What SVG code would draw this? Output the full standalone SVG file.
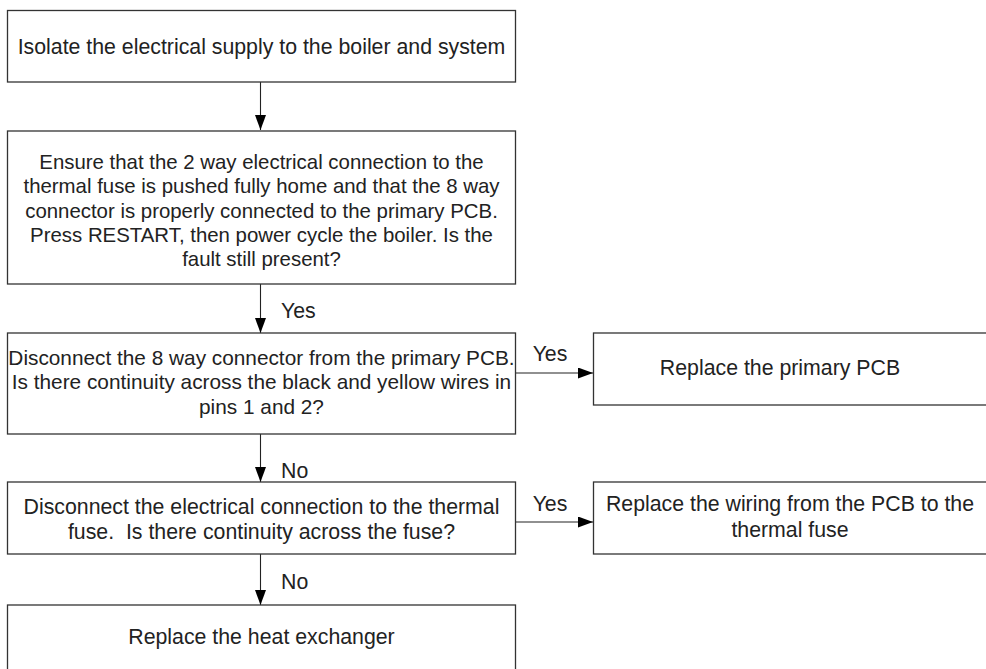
<svg xmlns="http://www.w3.org/2000/svg" width="986" height="669" viewBox="0 0 986 669">
<defs>
<style>
.box{fill:#fff;stroke:#333;stroke-width:1.3}
.t{font-family:"Liberation Sans",Arial,sans-serif;font-size:21.3px;fill:#222;text-anchor:middle}
.s2{font-size:20.4px}
.s3{font-size:20.8px}
.l{font-family:"Liberation Sans",Arial,sans-serif;font-size:21.3px;fill:#222}
.c{stroke:#222;stroke-width:1.1;fill:none;marker-end:url(#ah)}
</style>
<marker id="ah" markerWidth="15" markerHeight="11" refX="15" refY="5.5" orient="auto" markerUnits="userSpaceOnUse">
<path d="M0,0 L15,5.5 L0,11 Z" fill="#000"/>
</marker>
</defs>
<rect width="986" height="669" fill="#fff"/>
<g id="connectors">
<line class="c" x1="260.5" y1="82" x2="260.5" y2="130"/>
<line class="c" x1="260.5" y1="284" x2="260.5" y2="333"/>
<line class="c" x1="260.5" y1="434" x2="260.5" y2="482"/>
<line class="c" x1="260.5" y1="554" x2="260.5" y2="605"/>
<line class="c" x1="515.5" y1="373" x2="593" y2="373"/>
<line class="c" x1="515.5" y1="522" x2="593" y2="522"/>
<text class="l" x="281" y="318">Yes</text>
<text class="l" x="281" y="477.5">No</text>
<text class="l" x="281" y="589">No</text>
<text class="t" x="550" y="360.5">Yes</text>
<text class="t" x="550" y="510.5">Yes</text>
</g>
<g id="n1">
<rect class="box" x="7.5" y="10.5" width="508" height="71.5"/>
<text class="t" x="261.5" y="53.5">Isolate the electrical supply to the boiler and system</text>
</g>
<g id="n2">
<rect class="box" x="7.5" y="131" width="508" height="153"/>
<text class="t s2" x="261.5" y="169">Ensure that the 2 way electrical connection to the</text>
<text class="t s2" x="261.5" y="193.3">thermal fuse is pushed fully home and that the 8 way</text>
<text class="t s2" x="261.5" y="217.6">connector is properly connected to the primary PCB.</text>
<text class="t s2" x="261.5" y="241.9">Press RESTART, then power cycle the boiler. Is the</text>
<text class="t s2" x="261.5" y="266.2">fault still present?</text>
</g>
<g id="n3">
<rect class="box" x="7.5" y="333" width="508" height="101"/>
<text class="t s3" x="261.5" y="364.5">Disconnect the 8 way connector from the primary PCB.</text>
<text class="t s3" x="261.5" y="389">Is there continuity across the black and yellow wires in</text>
<text class="t s3" x="261.5" y="413.5">pins 1 and 2?</text>
</g>
<g id="n4">
<rect class="box" x="593.5" y="333" width="400" height="72"/>
<text class="t" x="780" y="375">Replace the primary PCB</text>
</g>
<g id="n5">
<rect class="box" x="7.5" y="482" width="508" height="72"/>
<text class="t" x="261.5" y="513.5">Disconnect the electrical connection to the thermal</text>
<text class="t" x="261.5" y="538.5" xml:space="preserve">fuse.  Is there continuity across the fuse?</text>
</g>
<g id="n6">
<rect class="box" x="593.5" y="482" width="400" height="72"/>
<text class="t" x="790" y="511">Replace the wiring from the PCB to the</text>
<text class="t" x="790" y="536.5">thermal fuse</text>
</g>
<g id="n7">
<rect class="box" x="7.5" y="605" width="508" height="80"/>
<text class="t" x="261.5" y="644">Replace the heat exchanger</text>
</g>
</svg>
